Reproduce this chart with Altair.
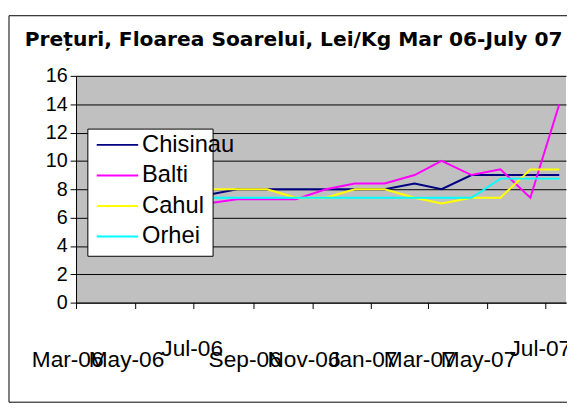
import altair as alt
import pandas as pd

# ---- data ----
months = ["2006-03-15", "2006-04-15", "2006-05-15", "2006-06-15", "2006-07-15",
          "2006-08-15", "2006-09-15", "2006-10-15", "2006-11-15", "2006-12-15",
          "2007-01-15", "2007-02-15", "2007-03-15", "2007-04-15", "2007-05-15",
          "2007-06-15", "2007-07-15"]
series_names = ["Chisinau", "Balti", "Cahul", "Orhei"]
chisinau = [7.6, 7.6, 7.6, 7.6, 7.6, 8.0, 8.0, 8.0, 8.0, 8.0, 8.0, 8.4, 8.0, 9.0, 9.0, 9.0, 9.0]
balti = [7.0, 7.0, 7.0, 7.0, 7.0, 7.3, 7.3, 7.3, 8.0, 8.4, 8.4, 9.0, 10.0, 9.0, 9.4, 7.4, 14.0]
cahul = [8.0, 8.0, 8.0, 8.0, 8.0, 8.0, 8.0, 7.4, 7.4, 8.0, 8.0, 7.4, 7.0, 7.4, 7.4, 9.4, 9.4]
orhei = [7.4, 7.4, 7.4, 7.4, 7.4, 7.4, 7.4, 7.4, 7.4, 7.4, 7.4, 7.4, 7.4, 7.4, 8.75, 8.75, 8.75]
tick_dates = ["2006-03-01", "2006-05-01", "2006-07-01", "2006-09-01", "2006-11-01",
              "2007-01-01", "2007-03-01", "2007-05-01", "2007-07-01"]
tick_labels = ["Mar-06", "May-06", "Jul-06", "Sep-06", "Nov-06", "Jan-07", "Mar-07", "May-07", "Jul-07"]
y_ticks = [0, 2, 4, 6, 8, 10, 12, 14, 16]
colors = ["#000080", "#FF00FF", "#FFFF00", "#00FFFF"]
title_text = "Prețuri, Floarea Soarelui, Lei/Kg Mar 06-July 07"

rows = []
for name, vals in zip(series_names, [chisinau, balti, cahul, orhei]):
    for d, v in zip(months, vals):
        rows.append({"date": d, "series": name, "value": v})
df = pd.DataFrame(rows)


def dt(s):
    y, m, d = (int(p) for p in s.split("-"))
    return alt.DateTime(year=y, month=m, date=d, utc=True)


label_expr = (str(tick_labels).replace('"', "'")
              + "[round((utcyear(datum.value)-2006)*6 + (utcmonth(datum.value)-2)/2)]")
is_jul = "utcmonth(datum.value) == 6"
is_last = "utcyear(datum.value) == 2007 && utcmonth(datum.value) == 6"

x_axis = alt.Axis(
    values=[dt(s) for s in tick_dates],
    labelExpr=label_expr,
    labelOverlap=False, labelFlush=False, labelBound=False,
    labelFont="Liberation Sans", labelFontSize=23, labelColor="black",
    labelBaseline="alphabetic", labelAlign="center",
    labelPadding={"condition": {"test": is_jul, "value": 48}, "value": 59},
    labelOffset={"condition": [{"test": is_last, "value": -6}, {"test": is_jul, "value": -2}], "value": -9},
    tickSize=6, tickColor="black", domainColor="black", grid=False, title=None,
)
y_axis = alt.Axis(
    values=y_ticks, tickSize=6, tickColor="black", domainColor="black",
    grid=True, gridColor="black", gridWidth=1,
    labelFont="Liberation Sans", labelFontSize=20, labelColor="black", labelPadding=3,
    title=None,
)

legend = alt.Legend(
    orient="none", legendX=30, legendY=58, title=None, padding=0,
    symbolType="M-3,0H3", symbolSize=196, symbolStrokeWidth=2,
    labelFont="Liberation Sans", labelFontSize=24, labelColor="black",
    labelOffset=13, rowPadding=7,
)

lines = alt.Chart(df).mark_line(strokeWidth=2).encode(
    x=alt.X("date:T", scale=alt.Scale(type="utc", domain=[dt("2006-03-01"), dt("2007-07-22")]), axis=x_axis),
    y=alt.Y("value:Q", scale=alt.Scale(domain=[0, 16]), axis=y_axis),
    color=alt.Color("series:N", scale=alt.Scale(domain=series_names, range=colors),
                    sort=series_names, legend=legend),
)

box_df = pd.DataFrame({"k": [0]})
outer_border = alt.Chart(box_df).mark_rect(fill="white", fillOpacity=0, stroke="black", strokeWidth=1).encode(
    x=alt.value(-68), x2=alt.value(520), y=alt.value(-61), y2=alt.value(331)
)
legend_box = alt.Chart(box_df).mark_rect(fill="white", stroke="black", strokeWidth=1).encode(
    x=alt.value(12), x2=alt.value(139), y=alt.value(54), y2=alt.value(183)
)

chart = alt.layer(outer_border, lines, legend_box).properties(
    width=497, height=230,
    autosize=alt.AutoSizeParams(type="none"),
    padding={"left": 69, "top": 66, "right": 1, "bottom": 100},
    title=alt.TitleParams(text=title_text, font="DejaVu Sans", fontSize=20.5, fontWeight="bold",
                          anchor="start", frame="group", dx=-52, dy=69.5, baseline="alphabetic",
                          offset=18, color="black"),
    background="white",
).configure_view(stroke=None, fill="#C0C0C0")

chart.save("out.html", embed_options={"renderer": "svg", "actions": False})
